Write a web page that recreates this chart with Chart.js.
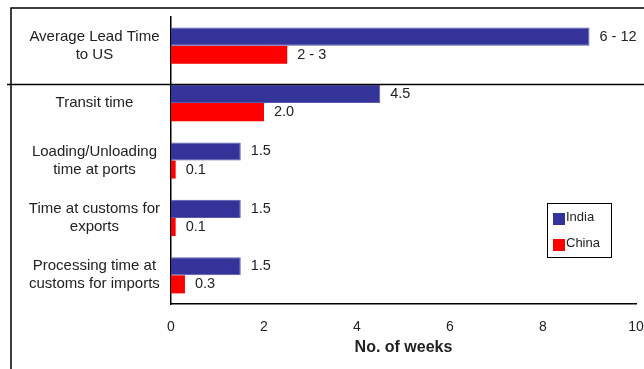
<!DOCTYPE html>
<html>
<head>
<meta charset="utf-8">
<script src="https://cdn.jsdelivr.net/npm/chart.js@4/dist/chart.umd.min.js"></script>
<style>
  html, body { margin: 0; padding: 0; background: #fff; }
  #wrap { position: relative; width: 644px; height: 369px; }
</style>
</head>
<body>
<div id="wrap"><canvas id="myChart" width="644" height="369"></canvas></div>
<script>
var categories = [
  ['Average Lead Time', 'to US'],
  'Transit time',
  ['Loading/Unloading', 'time at ports'],
  ['Time at customs for', 'exports'],
  ['Processing time at', 'customs for imports']
];
var india = [9, 4.5, 1.5, 1.5, 1.5];
var china = [2.5, 2.0, 0.1, 0.1, 0.3];
// first row is a range, bar sits at its mid value
var indiaLabels = ['6 - 12', '4.5', '1.5', '1.5', '1.5'];
var chinaLabels = ['2 - 3', '2.0', '0.1', '0.1', '0.3'];
var xTicks = [0, 2, 4, 6, 8, 10];

var FONT = 'Liberation Sans, Arial, sans-serif';

// value text at the end of each bar
var valueLabels = {
  id: 'valueLabels',
  afterDatasetsDraw: function(chart) {
    var ctx = chart.ctx;
    var texts = [indiaLabels, chinaLabels];
    ctx.save();
    ctx.font = '14.5px ' + FONT;
    ctx.fillStyle = '#222';
    ctx.textAlign = 'left';
    ctx.textBaseline = 'middle';
    chart.data.datasets.forEach(function(ds, di) {
      chart.getDatasetMeta(di).data.forEach(function(bar, i) {
        ctx.fillText(texts[di][i], bar.x + 10, bar.y);
      });
    });
    ctx.restore();
  }
};

// outer frame and the rule under the lead time row
var frame = {
  id: 'frame',
  afterDraw: function(chart) {
    var ctx = chart.ctx;
    var first = chart.getDatasetMeta(0).data[1];
    var sepY = Math.round(first.y - first.height / 2) - 0.5;
    ctx.save();
    ctx.strokeStyle = '#000';
    ctx.lineWidth = 1.5;
    ctx.beginPath();
    ctx.moveTo(11, 369);
    ctx.lineTo(11, 8);
    ctx.lineTo(644, 8);
    ctx.moveTo(7, sepY);
    ctx.lineTo(644, sepY);
    ctx.stroke();
    ctx.restore();
  }
};

// boxed legend inside the plot
var boxLegend = {
  id: 'boxLegend',
  afterDraw: function(chart) {
    var ctx = chart.ctx;
    var a = chart.chartArea;
    var x = a.right - 89, y = a.top + 186;
    ctx.save();
    ctx.fillStyle = '#fff';
    ctx.fillRect(x, y, 64, 54);
    ctx.strokeStyle = '#000';
    ctx.lineWidth = 1;
    ctx.strokeRect(x + 0.5, y + 0.5, 64, 54);
    ctx.font = '13px ' + FONT;
    ctx.textBaseline = 'middle';
    ctx.textAlign = 'left';
    chart.data.datasets.forEach(function(ds, i) {
      var cy = y + 16 + i * 26;
      ctx.fillStyle = ds.backgroundColor;
      ctx.fillRect(x + 6, cy - 6, 12, 12);
      ctx.fillStyle = '#222';
      ctx.fillText(ds.label, x + 19, cy - 2);
    });
    ctx.restore();
  }
};

new Chart('myChart', {
  type: 'bar',
  data: {
    labels: categories,
    datasets: [{
      label: 'India',
      data: india,
      backgroundColor: '#333399',
      borderColor: '#5a5ab0',
      borderWidth: 1,
      categoryPercentage: 0.63,
      barPercentage: 1
    }, {
      label: 'China',
      data: china,
      backgroundColor: '#ff0000',
      borderWidth: 0,
      categoryPercentage: 0.63,
      barPercentage: 1
    }]
  },
  plugins: [valueLabels, frame, boxLegend],
  options: {
    indexAxis: 'y',
    responsive: false,
    animation: false,
    layout: { padding: { top: 17, right: 8, left: 0, bottom: 0 } },
    plugins: {
      legend: { display: false },
      tooltip: { enabled: false }
    },
    scales: {
      x: {
        min: 0,
        max: 10,
        afterBuildTicks: function(s) { s.ticks = xTicks.map(function(v) { return { value: v }; }); },
        afterFit: function(s) { s.height = 65; s.paddingLeft = 0; s.paddingRight = 0; },
        grid: { display: false, drawTicks: false },
        border: { display: true, color: '#000', width: 1.5 },
        ticks: { padding: 15, color: '#222', font: { family: FONT, size: 14 }, maxRotation: 0 },
        title: {
          display: true,
          text: 'No. of weeks',
          color: '#222',
          font: { family: FONT, size: 16, weight: 'bold' },
          padding: { top: 0, bottom: 12 }
        }
      },
      y: {
        afterFit: function(s) { s.width = 171; s.paddingTop = 0; s.paddingBottom = 0; },
        grid: { display: false, drawTicks: false },
        border: { display: true, color: '#000', width: 1.5 },
        ticks: {
          padding: 11,
          crossAlign: 'center',
          color: '#222',
          font: { family: FONT, size: 15, lineHeight: 1.2 }
        }
      }
    }
  }
});
</script>
</body>
</html>
